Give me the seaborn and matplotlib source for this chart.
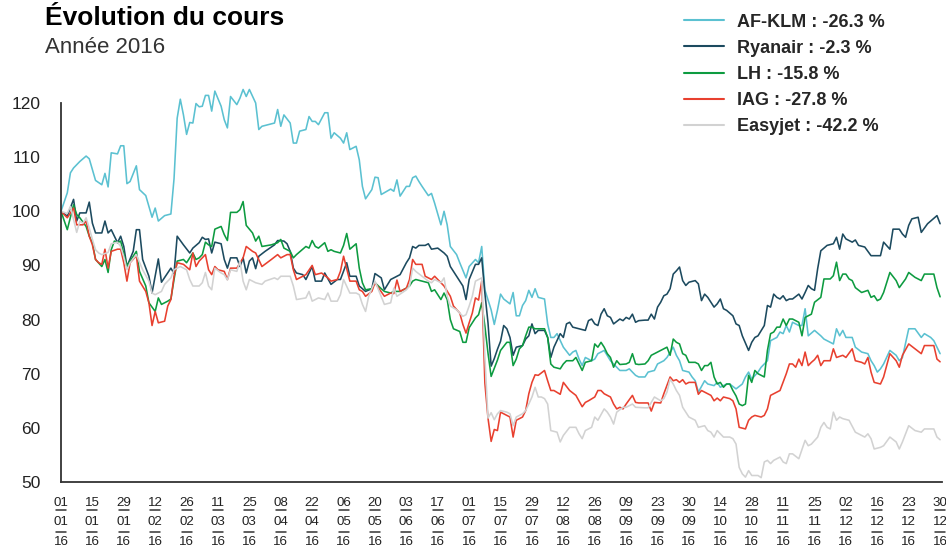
import matplotlib
matplotlib.use("Agg")
import matplotlib.pyplot as plt
import matplotlib.transforms as mtransforms
from matplotlib import font_manager
import pandas as pd
import seaborn as sns

# indice de séance (10 séances entre deux dates de l'axe) -> cours base 100
afklm = [(0,100.0),(2,103.4),(3,107.1),(4,108.0),(6,109.2),(8,110.2),(9,109.7),(11,105.7),(13,104.9),(14,107.0),(15,104.5),(16,110.8),(18,110.6),(19,112.1),(20,112.1),(21,105.1),(22,105.5),(24,108.4),(25,104.0),(27,102.9),(29,98.9),(30,100.6),(31,98.2),(33,99.2),(35,99.5),(36,106.0),(37,117.2),(38,120.7),(39,117.8),(40,114.2),(41,116.4),(42,116.3),(43,119.9),(44,119.3),(45,119.4),(46,121.4),(47,121.4),(48,118.5),(49,122.2),(51,119.4),(52,116.9),(53,115.4),(54,121.2),(56,119.7),(57,120.9),(58,122.5),(59,121.2),(60,122.5),(62,120.0),(63,115.1),(64,115.7),(68,116.3),(69,118.8),(70,115.7),(71,117.8),(73,116.3),(74,112.6),(75,112.6),(76,114.8),(78,115.1),(79,117.5),(80,116.6),(81,116.6),(82,116.0),(84,118.2),(85,118.2),(86,113.5),(87,114.5),(89,113.5),(90,112.6),(91,114.5),(92,111.4),(94,112.0),(95,109.5),(96,104.6),(97,102.3),(99,104.0),(100,106.3),(101,106.2),(102,103.1),(105,104.1),(106,103.7),(107,105.8),(108,102.8),(110,104.6),(111,104.6),(112,106.2),(113,106.5),(114,105.5),(115,104.6),(117,102.9),(118,103.3),(119,101.5),(121,97.5),(122,100.0),(123,97.5),(124,93.5),(126,92.0),(127,90.5),(129,87.7),(130,89.8),(132,91.1),(133,90.5),(134,93.5),(135,85.5),(137,81.8),(138,79.1),(139,81.7),(140,84.7),(141,83.8),(143,82.9),(144,85.0),(145,80.7),(146,80.7),(147,82.6),(148,83.5),(149,85.4),(150,84.1),(151,85.7),(152,84.1),(154,83.8),(155,79.2),(156,76.7),(157,76.7),(158,77.4),(160,74.9),(162,73.4),(163,74.0),(164,74.3),(165,72.7),(166,71.5),(167,73.0),(169,72.4),(170,72.7),(171,73.7),(173,74.3),(175,72.4),(176,71.8),(178,70.6),(180,70.6),(181,70.9),(183,69.7),(184,69.4),(186,69.4),(187,70.3),(189,70.6),(190,71.8),(192,72.4),(193,73.0),(195,74.9),(196,73.4),(197,72.4),(198,70.6),(200,70.3),(201,69.4),(202,68.7),(203,66.6),(205,68.7),(206,68.1),(208,67.8),(209,68.4),(210,67.5),(212,68.1),(213,68.1),(215,67.2),(217,68.1),(218,69.4),(219,70.3),(220,69.0),(222,70.3),(223,71.2),(225,72.4),(226,76.1),(227,76.4),(228,76.7),(229,77.7),(230,77.4),(231,78.9),(232,77.7),(233,79.5),(234,79.2),(235,78.9),(236,78.9),(237,82.0),(238,77.0),(240,78.0),(242,77.0),(243,76.4),(245,75.8),(246,75.5),(247,78.3),(248,77.0),(249,78.0),(250,76.7),(252,76.7),(253,74.9),(255,74.0),(257,73.7),(258,72.4),(259,71.5),(260,70.3),(261,70.9),(262,71.8),(264,74.3),(266,73.4),(267,72.4),(268,73.0),(270,78.3),(272,78.3),(274,76.7),(275,77.4),(277,76.7),(278,76.1),(279,74.9),(280,73.7)]

ryanair = [(0,100.0),(2,99.1),(4,102.2),(5,98.2),(6,99.7),(8,99.7),(9,101.7),(10,97.8),(11,96.0),(13,96.0),(14,98.2),(15,96.0),(16,96.6),(18,94.2),(19,95.4),(20,93.5),(21,89.8),(23,92.6),(24,96.6),(25,96.6),(26,91.1),(28,88.0),(29,84.9),(31,91.2),(32,86.9),(35,89.5),(36,88.5),(37,95.4),(39,93.8),(41,92.3),(42,93.2),(44,94.2),(45,95.2),(46,94.8),(47,94.9),(48,92.3),(49,94.3),(51,94.0),(52,91.1),(53,89.5),(54,91.4),(56,91.4),(57,89.8),(58,91.4),(59,88.6),(60,90.8),(61,91.4),(62,89.4),(63,91.7),(65,92.6),(68,93.8),(69,94.6),(71,94.5),(72,94.0),(73,92.6),(74,89.5),(75,88.6),(77,88.3),(78,87.4),(80,89.8),(81,87.1),(83,87.1),(84,88.6),(86,86.5),(88,87.4),(89,87.4),(91,90.5),(92,88.0),(94,88.0),(95,86.2),(97,85.2),(99,85.7),(100,88.5),(102,87.7),(103,85.5),(105,87.4),(107,88.0),(108,88.3),(110,90.5),(111,91.4),(112,93.5),(113,93.2),(114,93.7),(116,93.7),(117,94.0),(118,93.0),(120,93.2),(122,92.3),(123,91.7),(124,89.8),(126,88.0),(128,86.2),(129,83.7),(130,87.4),(132,90.2),(133,90.2),(134,91.4),(135,84.9),(136,79.4),(137,71.4),(138,72.8),(139,74.5),(140,76.0),(141,78.9),(142,78.3),(143,76.7),(144,73.4),(145,74.9),(147,75.2),(148,76.4),(149,77.0),(150,79.2),(151,77.4),(152,78.0),(154,78.0),(155,76.7),(156,73.0),(157,74.9),(159,77.4),(160,76.7),(161,79.2),(162,79.5),(163,78.6),(165,78.3),(167,78.0),(168,79.8),(169,80.1),(170,79.2),(171,78.9),(172,81.0),(173,82.0),(174,80.7),(175,80.4),(176,79.2),(178,80.1),(179,79.8),(180,80.4),(181,80.1),(182,81.0),(183,79.5),(184,79.8),(186,79.9),(187,79.9),(188,81.0),(189,80.1),(190,82.3),(191,83.2),(192,84.4),(193,84.7),(194,85.7),(195,88.4),(196,89.0),(197,89.7),(198,87.2),(199,86.3),(200,86.9),(202,87.2),(203,86.6),(204,83.5),(205,84.7),(206,84.1),(207,83.2),(208,82.3),(209,82.9),(210,83.8),(211,82.0),(212,81.7),(214,80.7),(215,79.2),(216,78.9),(217,77.0),(219,74.3),(220,75.8),(221,76.7),(222,77.0),(224,78.9),(225,82.6),(226,82.3),(227,84.7),(228,84.1),(229,83.8),(230,84.4),(231,83.5),(232,83.8),(233,83.8),(235,84.7),(236,83.8),(237,85.0),(238,86.3),(239,85.7),(240,85.4),(241,89.4),(242,92.7),(244,93.7),(246,94.0),(247,95.2),(248,93.0),(249,95.8),(250,94.9),(252,94.3),(253,94.7),(254,93.7),(256,93.4),(258,91.8),(261,91.8),(262,94.3),(264,93.0),(265,96.7),(267,96.7),(268,95.8),(269,95.2),(270,97.4),(271,98.6),(273,98.9),(274,96.1),(276,97.7),(279,99.2),(280,97.7)]

lh = [(0,100.0),(2,96.6),(4,101.2),(5,99.4),(6,98.8),(8,97.2),(9,95.4),(10,94.2),(11,91.1),(13,89.8),(14,91.1),(15,88.7),(16,92.9),(17,94.5),(18,94.2),(19,94.5),(21,89.8),(22,90.8),(24,92.6),(25,88.9),(27,86.2),(28,83.1),(30,81.5),(31,84.0),(32,82.8),(34,83.4),(35,83.8),(36,87.4),(37,90.8),(39,91.1),(40,90.5),(42,92.3),(43,91.1),(44,91.4),(45,92.0),(46,94.3),(47,93.8),(48,93.5),(49,96.7),(51,97.2),(52,95.7),(53,94.6),(54,99.8),(56,99.8),(57,100.3),(58,101.8),(59,97.4),(61,96.0),(62,94.5),(63,95.4),(64,93.5),(67,93.8),(69,94.2),(70,94.8),(71,93.2),(73,92.6),(74,91.4),(75,92.0),(78,93.5),(79,93.2),(80,94.6),(81,93.5),(82,93.2),(84,94.2),(85,92.6),(86,92.9),(87,92.6),(89,92.3),(90,93.7),(91,95.9),(92,93.0),(94,94.0),(95,89.5),(96,86.8),(97,85.5),(99,85.7),(100,86.8),(102,85.7),(103,85.2),(105,84.9),(106,85.2),(108,85.2),(110,85.8),(111,86.2),(112,87.1),(113,87.4),(115,87.1),(117,86.8),(118,85.2),(119,85.5),(121,83.7),(122,84.9),(123,83.7),(124,80.0),(125,78.3),(127,77.8),(128,75.8),(129,75.8),(130,78.5),(132,80.3),(133,80.9),(134,83.1),(135,78.8),(136,73.8),(137,69.5),(139,72.5),(140,74.3),(142,75.8),(143,75.8),(144,71.5),(145,72.7),(146,74.6),(147,75.2),(148,77.0),(149,78.6),(150,78.6),(151,78.3),(154,78.3),(155,76.7),(156,71.8),(157,71.2),(159,70.9),(160,71.8),(161,72.4),(163,72.4),(164,73.0),(165,71.8),(166,70.6),(167,72.1),(169,72.4),(170,75.5),(171,74.9),(172,75.8),(173,74.9),(174,73.7),(175,73.0),(176,71.2),(177,72.4),(178,71.7),(180,71.8),(181,72.1),(182,73.7),(183,71.8),(184,71.7),(186,71.8),(187,72.4),(188,73.4),(190,74.0),(191,74.3),(193,74.9),(194,73.4),(195,76.4),(196,75.8),(197,75.5),(198,73.7),(199,73.4),(200,72.1),(202,72.1),(203,71.8),(204,70.6),(205,71.5),(206,71.5),(207,72.1),(208,69.4),(209,68.1),(210,68.4),(211,67.5),(212,68.1),(213,68.1),(214,66.9),(215,65.9),(216,64.4),(217,64.1),(218,64.4),(219,69.7),(220,68.4),(221,70.6),(222,70.0),(224,69.4),(225,74.3),(226,77.4),(227,77.7),(228,78.6),(229,78.6),(230,80.1),(231,78.9),(232,80.1),(233,80.1),(235,79.5),(236,77.0),(237,80.4),(239,81.0),(240,83.2),(242,84.1),(243,87.5),(245,87.5),(246,88.1),(247,90.6),(248,87.2),(249,88.4),(250,88.4),(251,87.5),(252,87.2),(253,85.9),(255,85.0),(257,85.4),(258,84.1),(259,84.4),(260,83.5),(261,83.8),(262,85.0),(264,88.7),(266,87.2),(267,85.9),(269,87.5),(270,88.7),(272,87.8),(274,87.2),(275,88.4),(278,88.4),(279,85.9),(280,84.2)]

iag = [(0,100.0),(2,98.8),(4,100.6),(5,97.5),(7,97.5),(8,98.2),(9,95.4),(10,93.8),(11,91.1),(12,90.5),(13,90.2),(14,93.0),(15,89.5),(16,92.6),(18,93.0),(19,93.0),(20,90.5),(21,87.1),(22,90.5),(24,91.8),(25,87.1),(27,85.2),(28,83.1),(29,78.9),(30,81.5),(31,79.4),(33,79.7),(34,82.5),(35,83.7),(36,88.0),(37,90.5),(39,90.2),(41,89.2),(42,92.3),(43,89.8),(44,90.8),(46,92.0),(47,89.2),(48,88.3),(49,89.8),(50,89.2),(52,88.9),(53,87.4),(54,89.5),(56,89.5),(58,91.4),(59,93.5),(61,92.6),(62,92.3),(64,89.8),(67,91.1),(69,92.0),(70,91.4),(72,92.0),(73,92.0),(74,89.2),(75,87.4),(76,87.7),(78,88.3),(80,90.0),(81,88.3),(83,88.6),(85,87.7),(86,87.1),(88,87.4),(89,88.9),(90,91.7),(92,87.1),(94,87.1),(95,85.5),(96,85.2),(97,84.3),(99,85.2),(100,86.8),(103,84.3),(105,84.9),(106,84.8),(107,87.3),(108,85.2),(110,85.8),(111,87.4),(112,91.1),(113,90.2),(115,90.2),(116,88.0),(118,87.4),(119,88.0),(121,86.8),(122,86.2),(124,84.3),(125,82.5),(127,81.2),(128,79.1),(129,77.5),(130,79.4),(131,81.2),(132,84.0),(133,83.6),(134,87.1),(135,68.3),(136,61.8),(137,57.5),(138,59.7),(139,59.5),(140,62.9),(142,62.3),(143,62.0),(144,58.3),(145,61.4),(147,62.0),(148,63.2),(149,66.3),(150,68.4),(151,69.8),(152,69.7),(154,70.6),(155,68.7),(156,66.9),(157,66.9),(159,66.2),(160,68.4),(162,66.9),(164,66.0),(166,63.9),(167,64.7),(168,65.0),(170,65.7),(171,66.9),(172,66.9),(173,66.3),(175,65.7),(176,64.4),(177,63.5),(178,63.8),(179,63.5),(180,64.4),(182,66.0),(183,64.7),(184,64.6),(186,64.6),(187,64.6),(188,63.1),(189,64.7),(191,64.6),(192,66.3),(194,69.4),(195,68.7),(196,68.9),(197,68.4),(198,68.9),(199,68.1),(200,68.4),(202,68.4),(203,66.2),(204,66.9),(206,66.3),(207,66.0),(208,65.0),(209,65.5),(210,65.0),(211,65.7),(213,65.4),(214,65.0),(215,63.5),(216,60.1),(218,59.8),(219,61.4),(220,62.0),(221,62.3),(223,62.0),(224,62.3),(225,63.5),(226,66.0),(227,66.3),(229,66.9),(231,70.0),(232,71.8),(233,71.8),(234,71.2),(235,72.7),(236,71.5),(237,74.0),(238,71.5),(239,72.1),(240,72.6),(241,73.4),(242,71.5),(243,72.4),(245,72.4),(246,74.6),(247,73.0),(249,73.4),(250,73.0),(252,74.6),(253,72.4),(255,72.1),(256,71.8),(257,73.0),(258,70.3),(259,68.4),(261,68.1),(262,69.4),(264,73.7),(266,72.4),(267,71.2),(268,73.4),(270,75.5),(272,74.6),(274,73.7),(275,75.2),(278,75.2),(279,72.7),(280,72.2)]

easyjet = [(0,100.0),(2,99.6),(3,100.9),(5,96.1),(6,98.2),(7,97.8),(8,98.8),(9,96.9),(10,94.8),(11,92.9),(12,92.3),(13,92.0),(15,92.4),(16,94.0),(18,94.3),(19,93.5),(20,91.6),(21,89.2),(22,90.5),(24,92.0),(26,89.2),(28,87.1),(29,84.9),(30,84.6),(32,85.2),(33,86.5),(35,87.7),(36,89.2),(38,89.8),(40,89.2),(41,87.4),(42,86.2),(44,86.2),(45,86.8),(46,88.7),(47,86.2),(48,85.5),(49,89.5),(51,88.6),(52,88.3),(53,87.3),(54,89.2),(56,88.9),(57,90.8),(58,87.1),(59,85.5),(60,87.4),(61,87.1),(62,86.8),(64,86.5),(65,87.1),(68,87.7),(69,87.4),(70,88.0),(73,88.0),(74,86.2),(75,83.7),(78,84.0),(79,85.2),(80,83.4),(82,84.0),(84,83.7),(85,84.9),(86,83.4),(88,83.4),(89,84.6),(90,87.4),(92,84.9),(94,84.9),(95,84.6),(96,82.8),(97,81.5),(98,84.3),(100,87.1),(103,82.8),(105,83.1),(106,85.8),(107,84.3),(110,85.5),(111,86.2),(112,89.5),(113,88.9),(115,88.0),(117,87.1),(118,86.8),(119,87.4),(121,86.8),(122,87.7),(123,84.3),(124,82.5),(126,81.8),(128,80.6),(129,80.9),(130,82.5),(131,84.3),(132,87.1),(134,87.7),(135,73.2),(136,61.8),(137,62.8),(138,61.5),(139,62.6),(140,63.2),(142,62.9),(143,62.6),(144,60.4),(145,62.0),(147,62.6),(148,63.2),(149,64.4),(150,65.7),(151,67.5),(152,65.7),(153,65.7),(154,65.4),(155,64.4),(156,59.5),(158,59.2),(159,57.4),(160,58.6),(162,60.1),(164,60.1),(165,58.9),(166,58.0),(167,59.5),(169,60.1),(170,62.0),(171,61.4),(173,63.5),(174,62.9),(175,62.0),(176,60.7),(177,62.9),(179,63.8),(180,63.8),(182,64.4),(183,63.8),(186,63.7),(187,63.7),(188,64.7),(189,65.7),(191,65.0),(192,65.4),(193,66.6),(194,69.0),(195,68.1),(196,66.9),(197,66.0),(198,63.8),(199,62.9),(200,62.0),(202,61.4),(203,60.1),(205,60.4),(206,59.5),(207,59.2),(208,58.3),(209,59.5),(211,58.3),(213,58.3),(214,58.0),(215,57.0),(216,52.7),(217,51.5),(218,50.9),(219,52.1),(220,51.2),(222,51.2),(223,50.8),(224,53.7),(225,54.0),(226,53.4),(227,54.0),(229,54.6),(230,53.7),(231,53.4),(232,55.2),(233,55.2),(235,54.3),(237,57.7),(238,56.7),(239,57.0),(241,58.3),(242,60.1),(243,61.0),(244,60.1),(245,59.8),(246,62.9),(247,61.4),(248,62.0),(249,61.7),(251,61.4),(253,59.2),(254,58.9),(256,58.3),(257,58.9),(258,58.0),(259,56.1),(261,56.4),(262,56.7),(264,58.3),(266,57.4),(267,56.1),(268,57.4),(270,60.4),(272,59.5),(274,59.2),(275,59.8),(278,59.8),(279,58.3),(280,57.8)]

noms = ["AF-KLM : -26.3 %", "Ryanair : -2.3 %", "LH : -15.8 %", "IAG : -27.8 %", "Easyjet : -42.2 %"]
couleurs = ["#5bc1d1", "#1c4a5f", "#0d9b40", "#e8402f", "#d2d2d2"]

jours = ["01", "15", "29", "12", "26", "11", "25", "08", "22", "06", "20", "03", "17", "01",
         "15", "29", "12", "26", "09", "23", "30", "14", "28", "11", "25", "02", "16", "23", "30"]
mois = ["01", "01", "01", "02", "02", "03", "03", "04", "04", "05", "05", "06", "06", "07",
        "07", "07", "08", "08", "09", "09", "09", "10", "10", "11", "11", "12", "12", "12", "12"]
annee = "16"
positions = list(range(0, 281, 10))

# tableau long pour seaborn
morceaux = []
for nom, serie in zip(noms, [afklm, ryanair, lh, iag, easyjet]):
    d = pd.DataFrame(serie, columns=["seance", "cours"])
    d["societe"] = nom
    morceaux.append(d)
df = pd.concat(morceaux, ignore_index=True)

sns.set_theme(style="white")
plt.rcParams["font.family"] = ["Liberation Sans", "DejaVu Sans"]

# police étroite pour les dates si elle existe
dispo = {f.name for f in font_manager.fontManager.ttflist}
if "Liberation Sans Narrow" in dispo:
    police_dates, taille_dates = ["Liberation Sans Narrow"], 10.5
else:
    police_dates, taille_dates = ["Liberation Sans"], 9.6

fig = plt.figure(figsize=(9.46, 5.51), dpi=100)
ax = fig.add_axes([61 / 946, 69 / 551, 881 / 946, 379 / 551])

sns.lineplot(data=df, x="seance", y="cours", hue="societe", hue_order=noms,
             palette=dict(zip(noms, couleurs)), estimator=None, linewidth=1.15, ax=ax)
for ln in ax.lines:
    ln.set_clip_on(False)

handles, labels = ax.get_legend_handles_labels()
leg = ax.legend(handles, labels, loc="upper left", bbox_to_anchor=(684 / 946, 0.975),
                bbox_transform=fig.transFigure, frameon=False, borderpad=0, borderaxespad=0,
                handlelength=2.2, handletextpad=0.75, labelspacing=0.5,
                prop={"weight": "bold", "size": 13})
for h in leg.get_lines():
    h.set_linewidth(1.5)

# axes
for s in ["top", "right"]:
    ax.spines[s].set_visible(False)
for s in ["left", "bottom"]:
    ax.spines[s].set_color("#333333")
    ax.spines[s].set_linewidth(1.3)
ax.set_yticks(range(50, 121, 10))
ax.tick_params(axis="y", direction="out", length=9.5, width=1.1, color="#333333",
               labelsize=12.5, labelcolor="#222222", pad=5)
ax.set_xticks(positions)
ax.set_xticklabels([])
ax.tick_params(axis="x", length=0)
ax.set_xlabel("")
ax.set_ylabel("")

# étiquettes de date sur trois lignes séparées par un trait
trans = mtransforms.blended_transform_factory(ax.transData, ax.transAxes)
etiq = dict(transform=trans, ha="center", va="center", fontsize=taille_dates,
            color="#222222", family=police_dates)
for p, j, m in zip(positions, jours, mois):
    ax.text(p, -0.055, j, **etiq)
    ax.text(p, -0.106, m, **etiq)
    ax.text(p, -0.158, annee, **etiq)
    for yy in (-0.075, -0.133):
        ax.plot([p - 1.6, p + 1.6], [yy, yy], transform=trans, color="#333333",
                lw=1.1, clip_on=False)

ax.set_xlim(0, 280.6)
ax.set_ylim(50, 120)

fig.text(45 / 946, 1 - 25 / 551, "Évolution du cours", fontsize=19, fontweight="bold",
         color="black", va="baseline")
fig.text(45 / 946, 1 - 53 / 551, "Année 2016", fontsize=16, color="#333333", va="baseline")

fig.savefig("out.png", dpi=100)
